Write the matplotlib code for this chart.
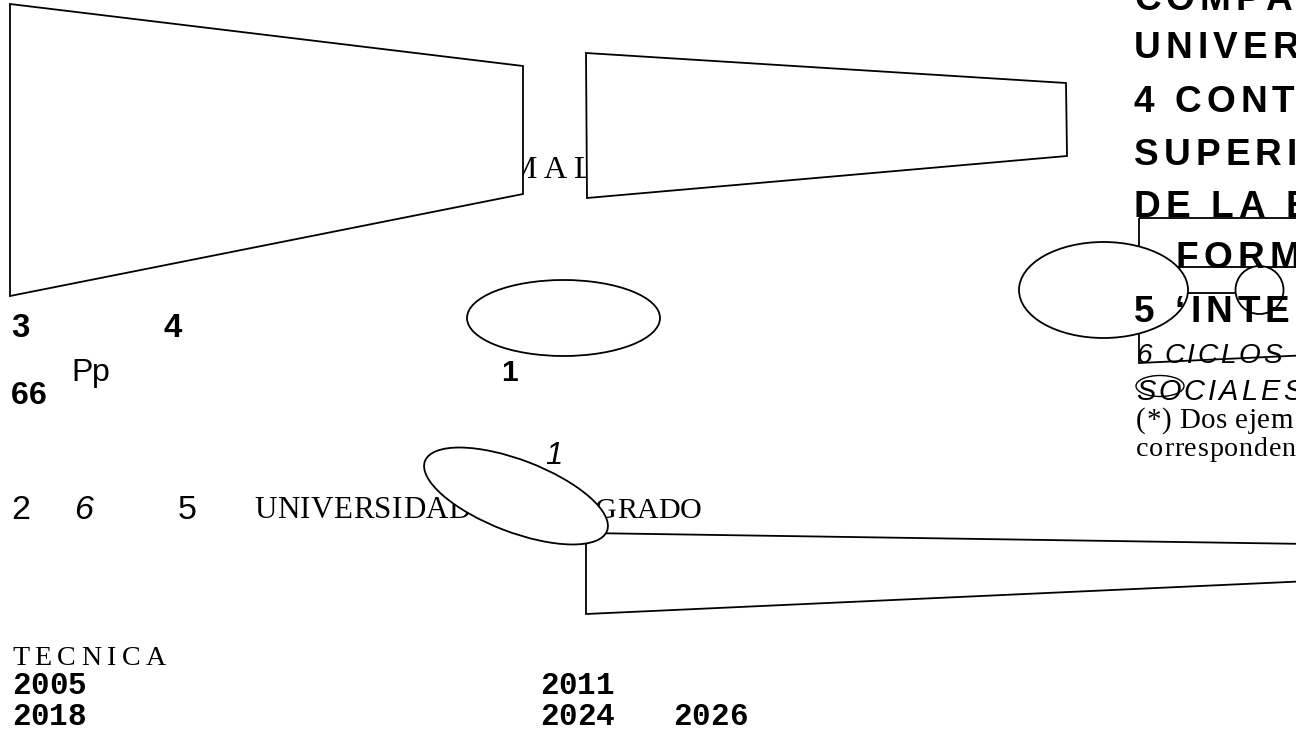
import matplotlib
matplotlib.use("Agg")
from matplotlib import pyplot as plt
from matplotlib.patches import Polygon, Ellipse
from matplotlib.font_manager import FontProperties, findfont, get_font

W, H = 1296, 743

# outlines, pixel coords with y going down
trap_left = [(10, 4), (523, 66), (523, 194), (10, 296)]
trap_mid = [(586, 53), (1066, 83), (1067, 156), (587, 198)]
trap_low = [(586, 533), (1310, 544), (1310, 581), (586, 614)]
frame_right = [(1139, 218), (1310, 218), (1310, 355), (1139, 363)]
band_top = [(1140, 267), (1310, 267)]
band_low = [(1140, 293), (1259, 293)]

# (cx, cy, width, height, angle)
ell_mid = (563.5, 318, 193, 76, 0)
ell_tilt = (516, 496, 195, 72, 21)
ell_right = (1103.5, 290, 169, 96, 0)
ring = (1259.5, 290, 48, 48, 0)
ell_small = (1160, 386, 48, 21, 0)

SANS_B = dict(family="Liberation Sans", weight="bold")
NARROW = dict(family=["Liberation Sans Narrow", "Liberation Sans"])
NARROW_B = dict(family=["Liberation Sans Narrow", "Liberation Sans"], weight="bold")
ITAL = dict(family="Liberation Sans", style="italic")
SERIF = dict(family="Liberation Serif")
MONO_B = dict(family="Liberation Mono", weight="bold")

# text, x, baseline y, size in px, font, tracking px, zorder
left_labels = [
    ("3", 11, 337, 33, SANS_B, 0, 3),
    ("4", 164, 337, 33, SANS_B, 0, 3),
    ("Pp", 71, 381, 32, NARROW, 0, 3),
    ("1", 501, 381, 30, SANS_B, 0, 3),
    ("66", 11, 404, 32, NARROW_B, 0, 3),
    ("1", 545, 464, 31, ITAL, 0, 3),
    ("2", 11, 519, 34, NARROW, 0, 3),
    ("6", 74, 519, 34, ITAL, 0, 3),
    ("5", 178, 519, 34, NARROW, 0, 3),
    ("UNIVERSIDAD", 254, 518, 31, SERIF, 0.5, 1),
    ("GRADO", 595, 518, 30, SERIF, 0, 1),
    ("MAL", 508, 178, 32, SERIF, 7, 1),
    ("TECNICA", 12, 665, 28, SERIF, 5.5, 3),
]
years = [("2005", 12, 694), ("2018", 12, 725), ("2011", 540, 694),
         ("2024", 540, 725), ("2026", 673, 725)]
right_column = [
    ("COMPA", 1134, 10, 37, SANS_B, 5, 3),
    ("UNIVER", 1134, 58, 37, SANS_B, 5, 3),
    ("4 CONT", 1134, 112, 37, SANS_B, 5, 3),
    ("SUPERI", 1134, 165, 37, SANS_B, 5, 3),
    ("DE LA E", 1134, 217, 37, SANS_B, 5, 3),
    ("FORM", 1176, 268, 37, SANS_B, 5, 3),
    ("5 \u2018INTE", 1134, 322, 37, SANS_B, 5, 3),
    ("6 CICLOS I", 1136, 363, 28, ITAL, 2.6, 3),
    ("SOCIALES", 1136, 400, 29, ITAL, 3, 3),
    ("(*) Dos ejem", 1136, 428, 29, SERIF, 0.5, 3),
    ("corresponden", 1136, 456, 28, SERIF, 0.8, 3),
]


def tracked(ax, s, x, y, px, font, track, z):
    prop = FontProperties(size=px * 0.72, **font)
    ft = get_font(findfont(prop))
    ft.set_size(px, 72)
    for ch in s:
        ax.text(x, y, ch, fontproperties=prop, va="baseline", ha="left", zorder=z)
        x += ft.load_char(ord(ch)).linearHoriAdvance / 65536 + track


fig = plt.figure(figsize=(W / 100, H / 100), dpi=100)
ax = fig.add_axes([0, 0, 1, 1])
ax.set_xlim(0, W)
ax.set_ylim(H, 0)
ax.axis("off")

lw = 1.3
for pts in (trap_left, trap_mid, trap_low):
    ax.add_patch(Polygon(pts, closed=True, facecolor="white", edgecolor="black", lw=lw, zorder=2))
ax.add_patch(Polygon(frame_right, closed=True, fill=False, edgecolor="black", lw=lw, zorder=1.5))
for seg in (band_top, band_low):
    xs, ys = zip(*seg)
    ax.plot(xs, ys, color="black", lw=lw, zorder=1.5)

for cx, cy, w, h, ang in (ell_mid, ell_tilt, ell_right, ring):
    ax.add_patch(Ellipse((cx, cy), w, h, angle=ang, facecolor="white", edgecolor="black", lw=lw, zorder=2))
cx, cy, w, h, ang = ell_small
ax.add_patch(Ellipse((cx, cy), w, h, angle=ang, fill=False, edgecolor="black", lw=1.0, zorder=4))

for s, x, y, px, font, tr, z in left_labels + right_column:
    tracked(ax, s, x, y, px, font, tr, z)
for s, x, y in years:
    tracked(ax, s, x, y, 31, MONO_B, 0, 3)

fig.savefig("out.png", dpi=100, facecolor="white")
